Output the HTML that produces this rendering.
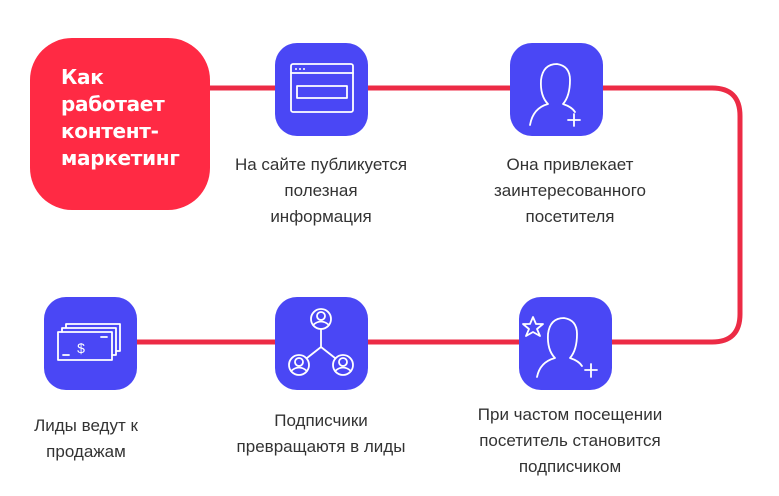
<!DOCTYPE html>
<html><head><meta charset="utf-8"><style>
html,body{margin:0;padding:0;background:#fff;}
svg{display:block}
text{font-family:"Liberation Sans","DejaVu Sans",sans-serif;fill:#333;font-size:17px;}
.t{fill:#fff;font-size:20px;font-weight:bold;font-family:"DejaVu Sans","Liberation Sans",sans-serif;letter-spacing:-0.3px}
</style></head><body>
<svg width="779" height="496" viewBox="0 0 779 496" xmlns="http://www.w3.org/2000/svg">
<path d="M200 88 H712 Q740 88 740 116 V314 Q740 342 712 342 H120" fill="none" stroke="#ec2b45" stroke-width="5"/>
<rect x="30" y="38" width="180" height="172" rx="42" fill="#ff2a44"/>
<text class="t" x="61" y="84">Как</text>
<text class="t" x="61" y="111">работает</text>
<text class="t" x="61" y="138">контент-</text>
<text class="t" x="61" y="165">маркетинг</text>
<g fill="#4a47f5">
<rect x="275" y="43" width="93" height="93" rx="22"/>
<rect x="510" y="43" width="93" height="93" rx="22"/>
<rect x="519" y="297" width="93" height="93" rx="22"/>
<rect x="275" y="297" width="93" height="93" rx="22"/>
<rect x="44" y="297" width="93" height="93" rx="22"/>
</g>
<g fill="#fff">
<circle cx="296" cy="69" r="1"/><circle cx="300" cy="69" r="1"/><circle cx="304" cy="69" r="1"/>
</g>
<g fill="none" stroke="#fff" stroke-width="1.8" stroke-linecap="round" stroke-linejoin="round">
<rect x="291" y="64" width="62" height="48" rx="2"/>
<line x1="291" y1="73" x2="353" y2="73"/>
<rect x="297" y="86" width="50" height="12"/>
<path d="M530 125 Q533 108 548 104 Q540 96 541 80 Q543 64 557 64 Q570 66 570 80 Q570 96 563 104 Q572 107 575 112"/>
<path d="M574 114 V126 M568 120 H580"/>
<path d="M537 377 Q540 362 555 358 Q547 350 548 334 Q550 318 564 318 Q577 320 577 334 Q577 350 570 358 Q579 361 582 366"/>
<path d="M591 364 V377 M585 370 H597"/>
<path d="M533 317 L536 324 L543 324 L537 329 L540 336 L533 332 L526 336 L529 329 L523 324 L530 324 Z"/>
<circle cx="321" cy="319" r="10"/><circle cx="321" cy="316" r="4"/><path d="M313 325 Q321 318 329 325"/>
<circle cx="299" cy="365" r="10"/><circle cx="299" cy="362" r="4"/><path d="M291 371 Q299 364 307 371"/>
<circle cx="343" cy="365" r="10"/><circle cx="343" cy="362" r="4"/><path d="M335 371 Q343 364 351 371"/>
<path d="M321 329 V347 L307 358 M321 347 L335 358"/>
<rect x="58" y="332" width="54" height="28"/>
<path d="M62 332 V328 H116 V355 H112 M66 328 V324 H120 V351 H116"/>
<path d="M63 355 H69 M101 337 H107"/>
</g>
<text x="81" y="353" style="fill:#fff;font-size:14px" text-anchor="middle">$</text>
<g text-anchor="middle">
<text x="321" y="170">На сайте публикуется</text>
<text x="321" y="196">полезная</text>
<text x="321" y="222">информация</text>
<text x="570" y="170">Она привлекает</text>
<text x="570" y="196">заинтересованного</text>
<text x="570" y="222">посетителя</text>
<text x="570" y="420">При частом посещении</text>
<text x="570" y="446">посетитель становится</text>
<text x="570" y="472">подписчиком</text>
<text x="321" y="426">Подписчики</text>
<text x="321" y="452">превращаютя в лиды</text>
<text x="86" y="431">Лиды ведут к</text>
<text x="86" y="457">продажам</text>
</g>
</svg>
</body></html>
